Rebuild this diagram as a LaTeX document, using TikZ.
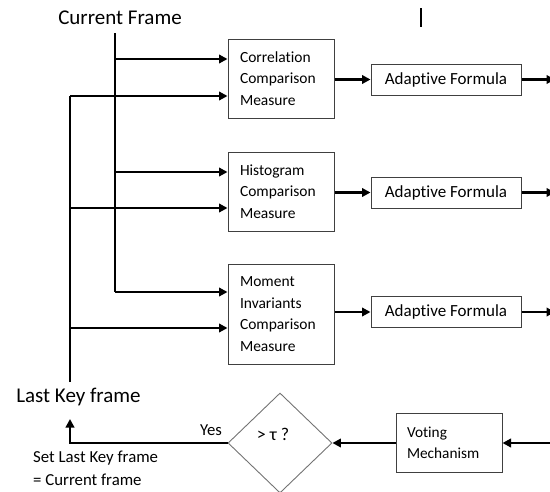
\documentclass[tikz,border=0pt]{standalone}
\usepackage{fontspec}
\setmainfont[Ligatures={NoCommon,NoRare}]{Carlito}
\usetikzlibrary{arrows.meta,shapes.geometric}
\begin{document}
\begin{tikzpicture}[x=1pt,y=-1pt,
  flow/.style={line width=2.8pt,-{Triangle[length=8.5pt,width=8.5pt]}},
  bar/.style={line width=2.8pt},
  mbox/.style={draw=black!75,line width=1pt,minimum width=106pt,text width=82pt,
    inner xsep=12pt,align=left,font=\fontsize{15.5}{21.5}\selectfont},
  abox/.style={draw=black!75,line width=1pt,minimum width=150pt,minimum height=31pt,
    font=\fontsize{17}{20}\selectfont},
  vbox/.style={draw=black!75,line width=1pt,minimum width=106pt,minimum height=59pt,
    text width=84pt,inner xsep=11pt,align=left,font=\fontsize{15.3}{21}\selectfont},
  lbl/.style={inner sep=0pt}]
\useasboundingbox (0,0) rectangle (550,491);

% comparison measures
\node[mbox,minimum height=79pt] (m1) at (281,78.5) {Correlation\\Comparison\\Measure};
\node[mbox,minimum height=79pt] (m2) at (281,191.5) {Histogram\\Comparison\\Measure};
\node[mbox,minimum height=100pt] (m3) at (281,314) {Moment\\Invariants\\Comparison\\Measure};

% adaptive formula boxes
\node[abox] (a1) at (446,79.5) {Adaptive Formula};
\node[abox] (a2) at (446,192.5) {Adaptive Formula};
\node[abox] (a3) at (446,312) {Adaptive Formula};

% voting and threshold test
\node[vbox] (vote) at (449,442.5) {Voting\\Mechanism};
\node[diamond,draw=black!55,line width=0.9pt,minimum width=104pt,minimum height=100pt,inner sep=0pt] (thr) at (280,443) {};
\node[inner sep=0pt,font=\fontsize{18}{20}\selectfont] (thrlbl) at (273,434) {> τ ?};

% labels
\node[lbl,font=\fontsize{21}{24}\selectfont] (cur) at (120,18) {Current Frame};
\node[lbl,font=\fontsize{21}{24}\selectfont] (last) at (78.5,397) {Last Key frame};
\node[lbl,font=\fontsize{16.7}{20}\selectfont] (yes) at (211,430) {Yes};
\node[lbl,font=\fontsize{16.8}{23}\selectfont,align=left,anchor=north west] (set) at (33,451)
  {Set Last Key frame\\= Current frame};

% small tick at the top
\coordinate (tickA) at (421,8);
\coordinate (tickB) at (421,27);
\draw[line width=1.8pt] (tickA) -- (tickB);

% current frame feed
\coordinate (cTop) at (115,33);
\draw[bar] (cTop) -- (115,292);
\draw[flow] (115,292) -- (m3.west |- 0,292);
\draw[flow] (115,59) -- (m1.west |- 0,59);
\draw[flow] (115,172) -- (m2.west |- 0,172);

% last key frame feed
\coordinate (lBot) at (70,382);
\draw[bar] (lBot) -- (70,96);
\draw[flow] (70,96) -- (m1.west |- 0,96);
\draw[flow] (70,208) -- (m2.west |- 0,208);
\draw[flow] (70,328) -- (m3.west |- 0,328);

% measures to adaptive formulas
\draw[flow] (m1.east |- a1) -- (a1.west);
\draw[flow] (m2.east |- a2) -- (a2.west);
\draw[flow] (m3.east |- a3) -- (a3.west);

% adaptive formulas to the right edge
\coordinate (o1) at (555,79.5);
\coordinate (o2) at (555,192.5);
\coordinate (o3) at (555,312);
\draw[flow] (a1.east) -- (o1);
\draw[flow] (a2.east) -- (o2);
\draw[flow] (a3.east) -- (o3);

% into voting, then the threshold test
\coordinate (vin) at (560,443);
\draw[flow] (vin) -- (vote.east |- 0,443);
\draw[flow] (vote.west |- 0,443) -- (thr.east);

% yes branch back to the last key frame
\coordinate (upTip) at (70,419);
\draw[flow] (thr.west) -| (upTip);
\end{tikzpicture}
\end{document}
